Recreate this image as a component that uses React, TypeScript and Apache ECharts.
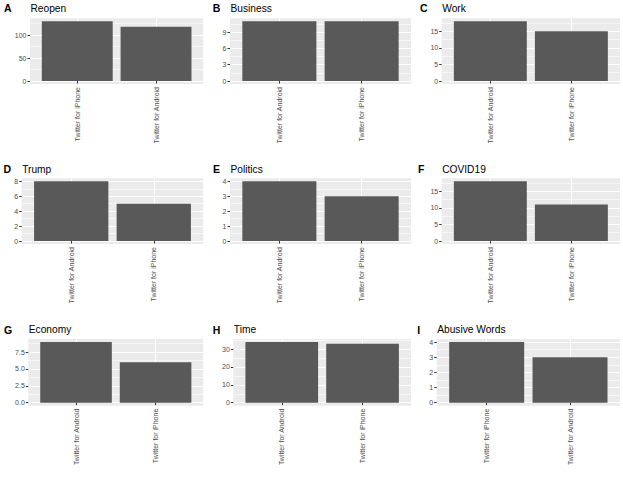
import React, { useEffect, useRef } from "react";
import * as echarts from "echarts";

// ---- data ----
const reopenCats = ["Twitter for iPhone", "Twitter for Android"];
const reopenVals = [130, 118];
const reopenTicks = [0, 50, 100];

const businessCats = ["Twitter for Android", "Twitter for iPhone"];
const businessVals = [11, 11];
const businessTicks = [0, 3, 6, 9];

const workCats = ["Twitter for Android", "Twitter for iPhone"];
const workVals = [18, 15];
const workTicks = [0, 5, 10, 15];

const trumpCats = ["Twitter for Android", "Twitter for iPhone"];
const trumpVals = [8, 5];
const trumpTicks = [0, 2, 4, 6, 8];

const politicsCats = ["Twitter for Android", "Twitter for iPhone"];
const politicsVals = [4, 3];
const politicsTicks = [0, 1, 2, 3, 4];

const covidCats = ["Twitter for Android", "Twitter for iPhone"];
const covidVals = [18, 11];
const covidTicks = [0, 5, 10, 15];

const economyCats = ["Twitter for Android", "Twitter for iPhone"];
const economyVals = [9, 6];
const economyTicks = [0, 2.5, 5, 7.5];

const timeCats = ["Twitter for Android", "Twitter for iPhone"];
const timeVals = [34, 33];
const timeTicks = [0, 10, 20, 30];

const abusiveCats = ["Twitter for iPhone", "Twitter for Android"];
const abusiveVals = [4, 3];
const abusiveTicks = [0, 1, 2, 3, 4];

const panelLetters = ["A", "B", "C", "D", "E", "F", "G", "H", "I"];
const panelTitles = ["Reopen", "Business", "Work", "Trump", "Politics", "COVID19", "Economy", "Time", "Abusive Words"];

const panelData = [
  { cats: reopenCats, vals: reopenVals, ticks: reopenTicks },
  { cats: businessCats, vals: businessVals, ticks: businessTicks },
  { cats: workCats, vals: workVals, ticks: workTicks },
  { cats: trumpCats, vals: trumpVals, ticks: trumpTicks },
  { cats: politicsCats, vals: politicsVals, ticks: politicsTicks },
  { cats: covidCats, vals: covidVals, ticks: covidTicks },
  { cats: economyCats, vals: economyVals, ticks: economyTicks },
  { cats: timeCats, vals: timeVals, ticks: timeTicks },
  { cats: abusiveCats, vals: abusiveVals, ticks: abusiveTicks },
];

// ---- layout ----
const rowTop = [18.3, 178.3, 339];
const rowHeight = [65.7, 65.7, 66.7];
const rowTextY = [8.3, 169, 329.8];
const panelLeft = [30, 230, 441.7, 21.7, 230, 441.7, 28.3, 233.3, 436.7];
const panelRight = [203.3, 411, 620, 203.3, 411, 620, 203.3, 411, 620];
const letterX = [4, 212.7, 420, 3.5, 213, 418, 4, 212.7, 417.3];

const FONT = "'Liberation Sans', Arial, Helvetica, sans-serif";

function decimals(arr: number[]) {
  let d = 0;
  arr.forEach((v) => {
    const s = String(v);
    const i = s.indexOf(".");
    if (i >= 0) d = Math.max(d, s.length - i - 1);
  });
  return d;
}

export default function App() {
  const ref = useRef<HTMLDivElement>(null);
  useEffect(() => {
    if (!ref.current) return;
    const chart = echarts.init(ref.current, undefined, { renderer: "svg" });
    const grid: any[] = [];
    const xAxis: any[] = [];
    const yAxis: any[] = [];
    const minorAxes: any[] = [];
    const series: any[] = [];
    const graphic: any[] = [];

    panelData.forEach((p, i) => {
      const row = Math.floor(i / 3);
      const maxV = Math.max(...p.vals);
      const yMin = -0.05 * maxV;
      const yMax = 1.05 * maxV;
      const step = p.ticks[1] - p.ticks[0];
      const minors: number[] = [];
      p.ticks.forEach((t) => {
        if (t + step / 2 <= yMax) minors.push(t + step / 2);
      });
      const dec = decimals(p.ticks);
      grid.push({
        left: panelLeft[i],
        top: rowTop[row],
        width: panelRight[i] - panelLeft[i],
        height: rowHeight[row],
        show: true,
        backgroundColor: "#EBEBEB",
        borderWidth: 0,
        containLabel: false,
      });
      xAxis.push({
        type: "value",
        gridIndex: i,
        min: 0.4,
        max: 2.6,
        axisLine: { show: false },
        axisTick: {
          show: true,
          customValues: [1, 2],
          length: 2.5,
          lineStyle: { color: "#333333", width: 1 },
        },
        axisLabel: {
          show: true,
          customValues: [1, 2],
          rotate: 90,
          margin: 3,
          fontSize: 7,
          color: "#4D4D4D",
          fontFamily: FONT,
          formatter: (v: number) => p.cats[Math.round(v) - 1] || "",
        },
        splitLine: { show: true, lineStyle: { color: "#FFFFFF", width: 1.1 } },
      });
      yAxis.push({
        type: "value",
        gridIndex: i,
        min: yMin,
        max: yMax,
        axisLine: { show: false },
        axisTick: {
          show: true,
          customValues: p.ticks,
          length: 2.5,
          lineStyle: { color: "#333333", width: 1 },
        },
        axisLabel: {
          show: true,
          customValues: p.ticks,
          margin: 3.5,
          fontSize: 7,
          color: "#4D4D4D",
          fontFamily: FONT,
          formatter: (v: number) => v.toFixed(dec),
        },
        splitLine: { show: true, lineStyle: { color: "#FFFFFF", width: 1.1 } },
      });
      minorAxes.push({
        type: "value",
        gridIndex: i,
        min: yMin,
        max: yMax,
        position: "left",
        axisLine: { show: false },
        axisTick: { show: false, customValues: minors },
        axisLabel: { show: false, customValues: minors },
        splitLine: { show: true, lineStyle: { color: "#FFFFFF", width: 0.55 } },
      });
      series.push({
        type: "bar",
        xAxisIndex: i,
        yAxisIndex: i,
        data: p.vals.map((v, k) => [k + 1, v]),
        barWidth: "90%",
        itemStyle: { color: "#595959" },
        silent: true,
        z: 3,
      });
      graphic.push({
        type: "text",
        x: letterX[i],
        y: rowTextY[row],
        style: {
          text: panelLetters[i],
          fill: "#000000",
          fontSize: 10.5,
          fontWeight: "bold",
          fontFamily: FONT,
          verticalAlign: "middle",
          align: "left",
        },
      });
      graphic.push({
        type: "text",
        x: panelLeft[i] + 0.5,
        y: rowTextY[row],
        style: {
          text: panelTitles[i],
          fill: "#000000",
          fontSize: 10.2,
          fontFamily: FONT,
          verticalAlign: "middle",
          align: "left",
        },
      });
    });

    chart.setOption({
      animation: false,
      backgroundColor: "#FFFFFF",
      grid,
      xAxis,
      yAxis: yAxis.concat(minorAxes),
      series,
      graphic,
    });
    return () => chart.dispose();
  }, []);
  return (
    <div
      ref={ref}
      style={{ position: "fixed", left: 0, top: 0, width: 623, height: 481 }}
    />
  );
}
